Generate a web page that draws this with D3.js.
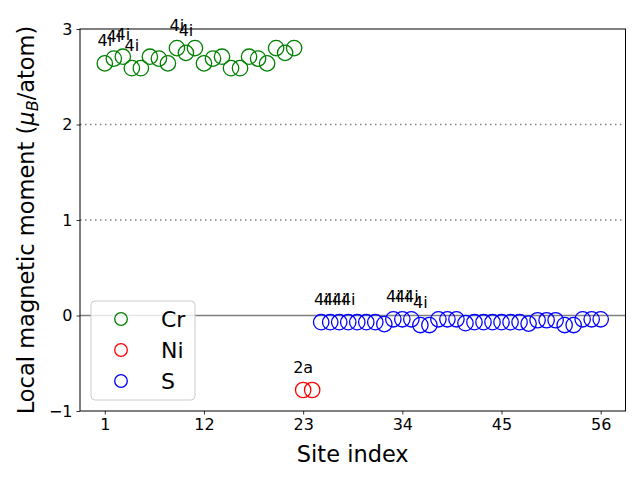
<!DOCTYPE html>
<html><head><meta charset="utf-8">
<script src="https://cdn.jsdelivr.net/npm/d3@7"></script>
<style>body{margin:0;background:#fff}text{font-family:"DejaVu Sans",sans-serif}</style>
</head><body><svg id="c" width="640" height="480"></svg>
<script>
const crSites=[1,2,3,4,5,6,7,8,9,10,11,12,13,14,15,16,17,18,19,20,21,22];
const crVals=[2.64,2.69,2.71,2.59,2.59,2.71,2.69,2.64,2.80,2.75,2.80,2.64,2.69,2.71,2.59,2.59,2.71,2.69,2.64,2.80,2.75,2.80];
const niSites=[23,24];
const niVals=[-0.78,-0.78];
const sSites=[25,26,27,28,29,30,31,32,33,34,35,36,37,38,39,40,41,42,43,44,45,46,47,48,49,50,51,52,53,54,55,56];
const sVals=[-0.07,-0.07,-0.07,-0.07,-0.07,-0.07,-0.07,-0.09,-0.04,-0.04,-0.04,-0.10,-0.10,-0.04,-0.04,-0.04,-0.08,-0.07,-0.07,-0.07,-0.07,-0.07,-0.07,-0.085,-0.05,-0.05,-0.05,-0.10,-0.10,-0.04,-0.04,-0.04];
const labelSites=[1,2,3,4,9,10,23,25,26,27,28,33,34,35,36];
const labelTexts=["4i","4i","4i","4i","4i","4i","2a","4i","4i","4i","4i","4i","4i","4i","4i"];
const xTicks=[1,12,23,34,45,56];
const yTicks=[-1,0,1,2,3];
const series=[{name:"Cr",color:"green",sites:crSites,vals:crVals},{name:"Ni",color:"red",sites:niSites,vals:niVals},{name:"S",color:"blue",sites:sSites,vals:sVals}];

const svg=d3.select("#c");
const L=80,R=625.5,T=29,B=411;
const x=d3.scaleLinear().domain([-1.75,58.75]).range([L,R]);
const y=d3.scaleLinear().domain([-1,3]).range([B,T]);

[1,2].forEach(v=>svg.append("line").attr("x1",L).attr("x2",R).attr("y1",y(v)).attr("y2",y(v)).attr("stroke","gray").attr("stroke-width",1.5).attr("stroke-dasharray","1.5,3.5"));
svg.append("line").attr("x1",L).attr("x2",R).attr("y1",y(0)).attr("y2",y(0)).attr("stroke","gray").attr("stroke-width",1.5);

const allVal={};
series.forEach(s=>{
  s.sites.forEach((st,i)=>allVal[st]=s.vals[i]);
  svg.append("g").selectAll("circle").data(s.sites.map((st,i)=>[st,s.vals[i]])).join("circle")
    .attr("cx",d=>x(d[0])).attr("cy",d=>y(d[1])).attr("r",7.7)
    .attr("fill","none").attr("stroke",s.color).attr("stroke-width",1.3);
});

svg.append("g").selectAll("text").data(labelSites.map((st,i)=>[st,labelTexts[i]])).join("text")
  .attr("x",d=>x(d[0])).attr("y",d=>y(allVal[d[0]])-17).attr("text-anchor","middle")
  .attr("font-size",16).attr("fill","#000").text(d=>d[1]);

const xa=svg.append("g").attr("transform",`translate(0,${B})`).call(d3.axisBottom(x).tickValues(xTicks).tickSize(3.5).tickPadding(4).tickFormat(d3.format("d")));
const ya=svg.append("g").attr("transform",`translate(${L},0)`).call(d3.axisLeft(y).tickValues(yTicks).tickSize(3.5).tickPadding(4).tickFormat(d=>d<0?"\u2212"+Math.abs(d):d));
[xa,ya].forEach(a=>{a.select(".domain").remove();a.selectAll("text").attr("font-size",16).attr("font-family","DejaVu Sans").attr("fill","#000");a.selectAll("line").attr("stroke","#000").attr("stroke-width",0.8);});
svg.append("rect").attr("x",L).attr("y",T).attr("width",R-L).attr("height",B-T).attr("fill","none").attr("stroke","#000").attr("stroke-width",1);

svg.append("text").attr("x",(L+R)/2).attr("y",462).attr("text-anchor","middle").attr("font-size",22.5).text("Site index");
const yl=svg.append("text").attr("transform",`translate(34,${(T+B)/2}) rotate(-90)`).attr("text-anchor","middle").attr("font-size",22.5);
yl.append("tspan").text("Local magnetic moment (");
yl.append("tspan").attr("font-style","italic").text("\u03bc");
yl.append("tspan").attr("font-style","italic").attr("font-size",16).attr("dy",4).text("B");
yl.append("tspan").attr("dy",-4).text("/atom)");

const lg=svg.append("g");
lg.append("rect").attr("x",91).attr("y",301).attr("width",104).attr("height",99).attr("rx",4).attr("fill","#fff").attr("fill-opacity",0.8).attr("stroke","#ccc").attr("stroke-width",1);
series.forEach((s,i)=>{
  const yy=319+i*31;
  lg.append("circle").attr("cx",121).attr("cy",yy).attr("r",6.3).attr("fill","none").attr("stroke",s.color).attr("stroke-width",1.3);
  lg.append("text").attr("x",161).attr("y",yy+7.5).attr("font-size",22).text(s.name);
});
</script></body></html>
